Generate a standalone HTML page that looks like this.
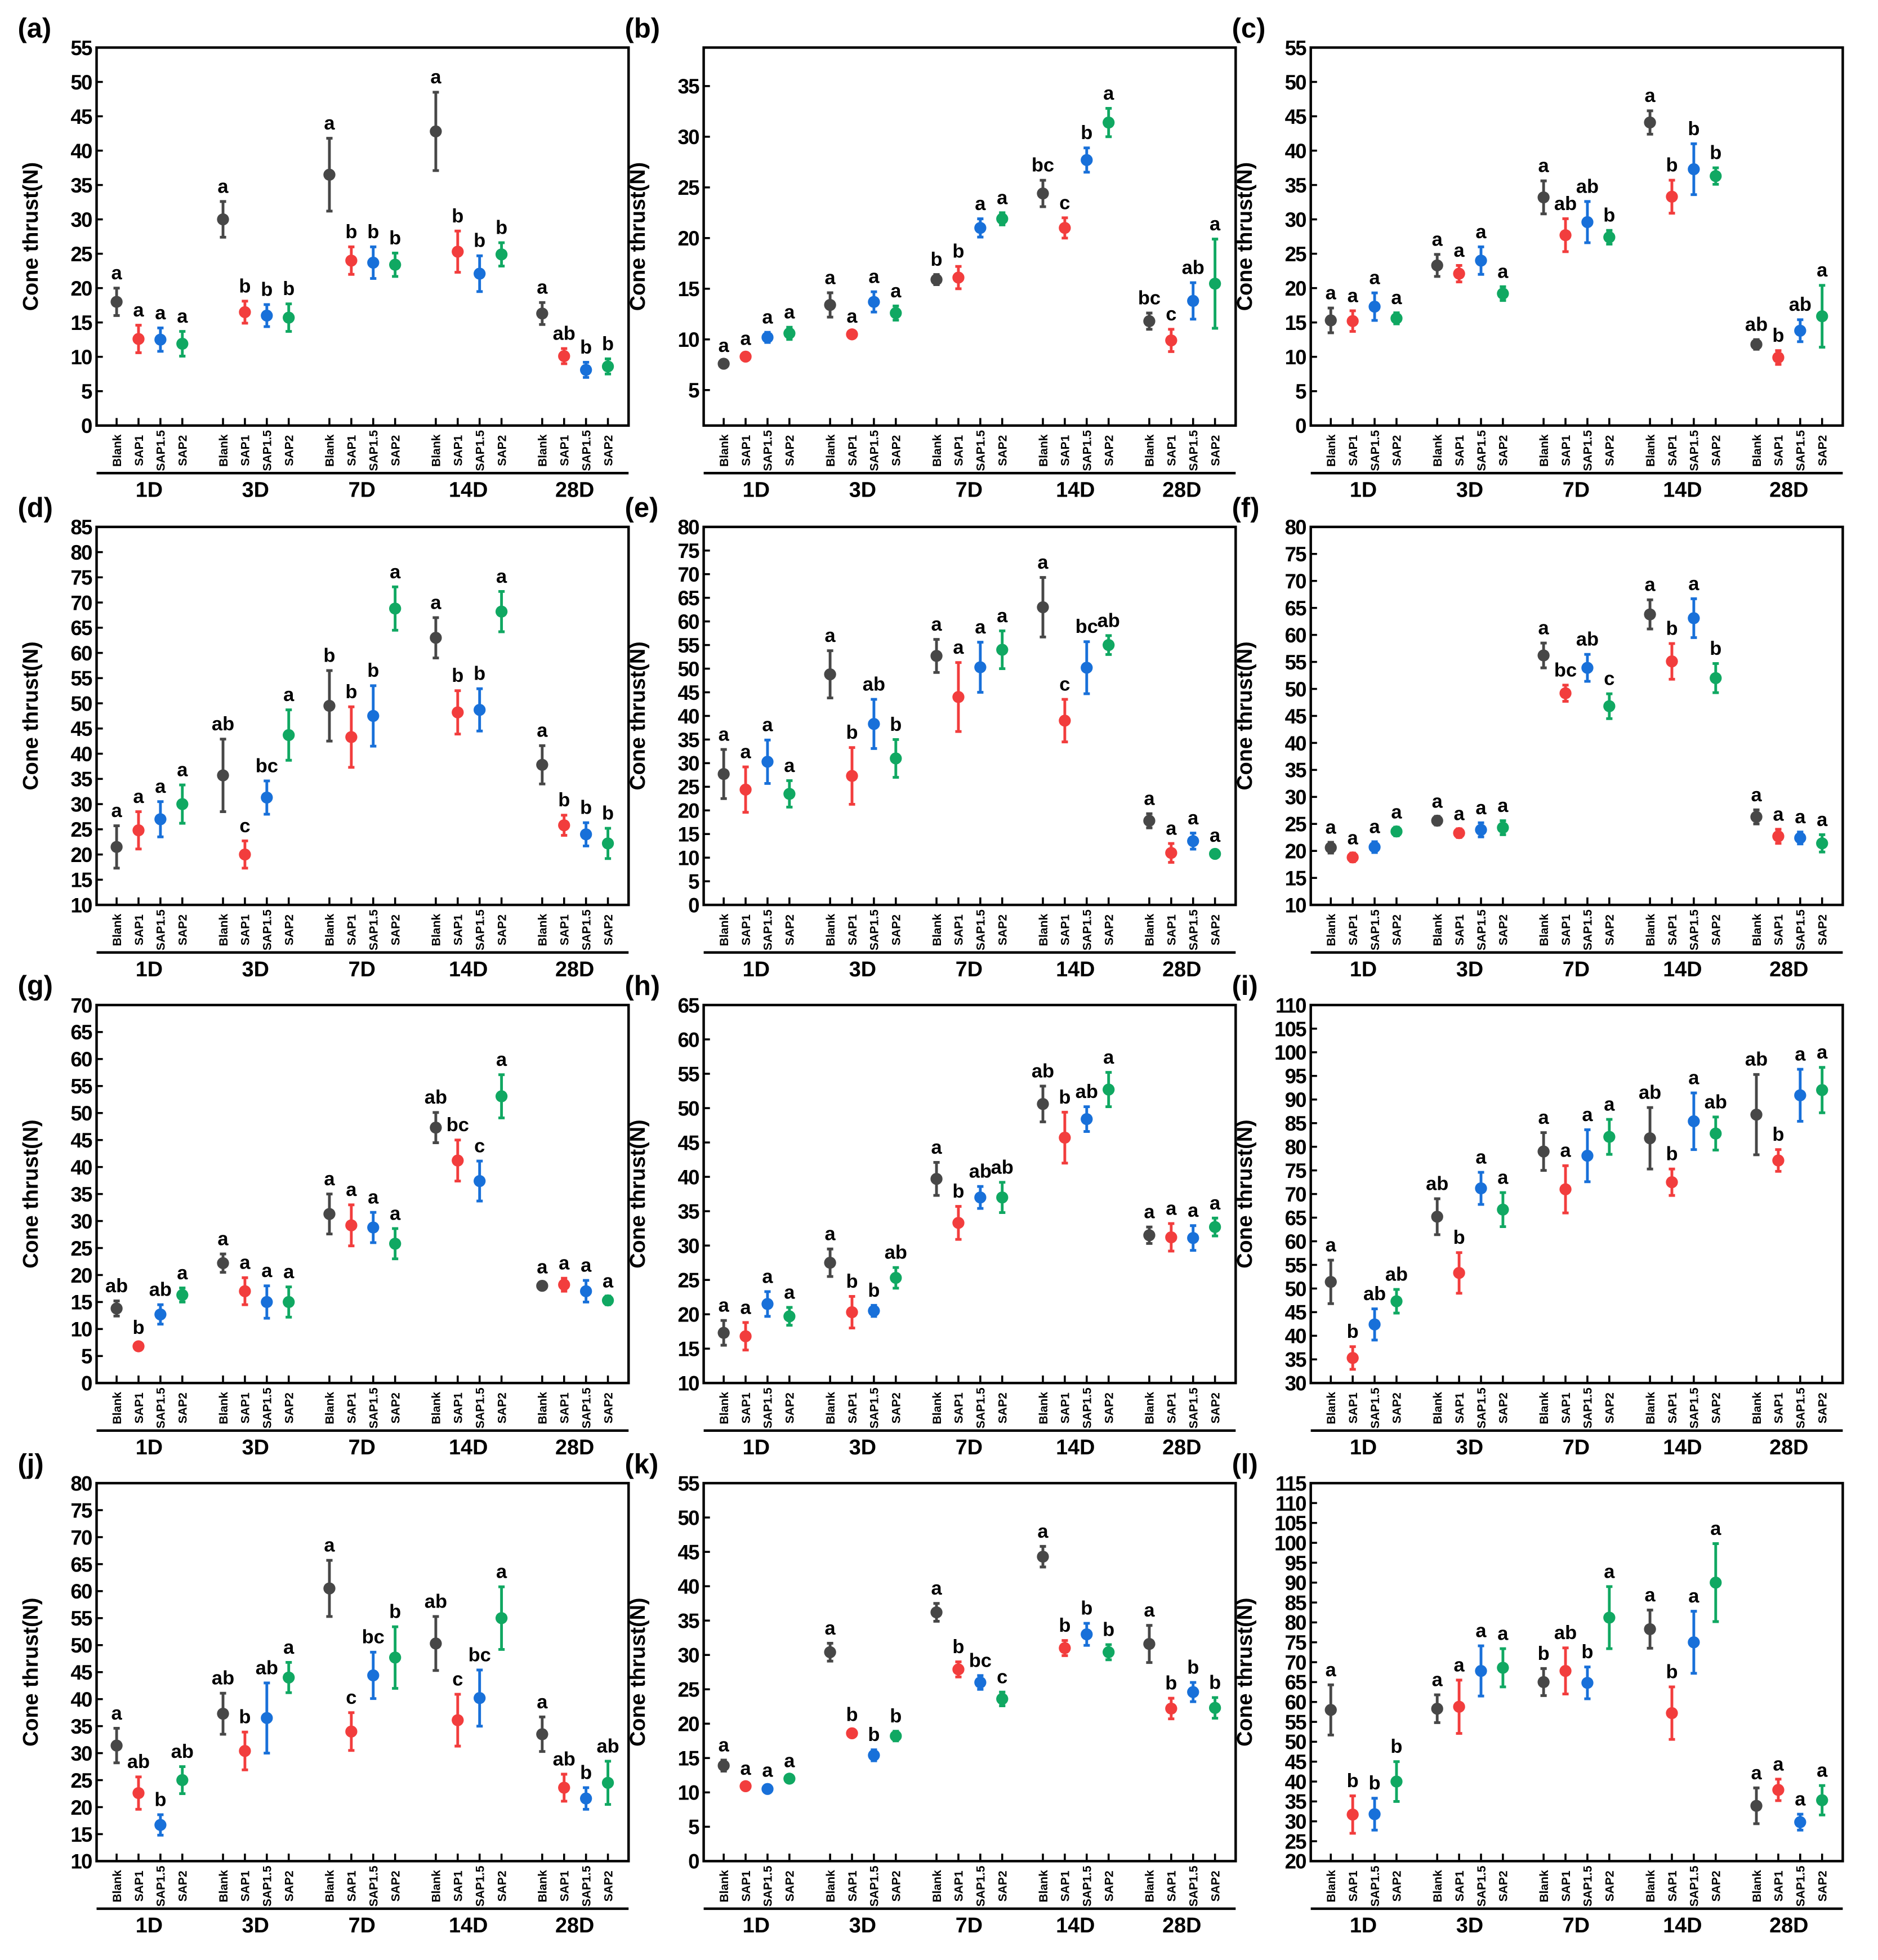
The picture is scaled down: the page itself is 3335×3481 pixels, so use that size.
<!DOCTYPE html>
<html><head><meta charset="utf-8">
<style>
html,body{margin:0;padding:0;background:#fff;}
svg{display:block;font-family:"Liberation Sans",Arial,sans-serif;}
</style></head>
<body>
<svg id="fig" xmlns="http://www.w3.org/2000/svg" width="3335" height="3481" viewBox="0 0 1500 1566"></svg>
<script>
// ---- shared categories ----
const treatments = ["Blank","SAP1","SAP1.5","SAP2"];
const groups = ["1D","3D","7D","14D","28D"];
const colors = ["#474747","#f23d3d","#1870d9","#10a862"];

// ---- panel (a) ----
const aMeans = [18,12.6,12.5,11.9, 30,16.5,16,15.7, 36.5,24,23.7,23.4, 42.8,25.3,22.1,24.9, 16.3,10.1,8.1,8.6];
const aErrs  = [2,2,1.7,1.8, 2.6,1.6,1.6,2, 5.3,2,2.3,1.7, 5.7,3,2.6,1.7, 1.6,1.1,1.1,1.1];
const aLetters = ["a","a","a","a","a","b","b","b","a","b","b","b","a","b","b","b","a","ab","b","b"];
const aTicks = [0,5,10,15,20,25,30,35,40,45,50,55];
// ---- panel (b) ----
const bMeans = [7.6,8.3,10.2,10.6, 13.4,10.5,13.7,12.6, 15.9,16.1,21,21.9, 24.4,21,27.7,31.4, 11.8,9.9,13.8,15.5];
const bErrs  = [0.3,0.3,0.5,0.6, 1.2,0.3,1,0.7, 0.5,1.1,0.9,0.6, 1.3,1,1.2,1.4, 0.8,1.1,1.8,4.4];
const bLetters = ["a","a","a","a","a","a","a","a","b","b","a","a","bc","c","b","a","bc","c","ab","a"];
const bTicks = [5,10,15,20,25,30,35];
// ---- panel (c) ----
const cMeans = [15.3,15.2,17.3,15.6, 23.3,22.1,24,19.2, 33.2,27.7,29.6,27.4, 44.1,33.3,37.3,36.3, 11.8,9.9,13.8,15.9];
const cErrs  = [1.8,1.5,2,0.8, 1.6,1.2,2,1, 2.4,2.4,3,1, 1.7,2.4,3.7,1.2, 0.7,1,1.6,4.5];
const cLetters = ["a","a","a","a","a","a","a","a","a","ab","ab","b","a","b","b","b","ab","b","ab","a"];
const cTicks = [0,5,10,15,20,25,30,35,40,45,50,55];
// ---- panel (d) ----
const dMeans = [21.5,24.8,27,30, 35.7,20,31.3,43.7, 49.5,43.3,47.5,68.8, 63,48.2,48.7,68.2, 37.8,25.8,24,22.2];
const dErrs  = [4.2,3.7,3.5,3.8, 7.2,2.7,3.3,5, 7,6,6,4.3, 4,4.3,4.2,4, 3.8,2,2.3,3];
const dLetters = ["a","a","a","a","ab","c","bc","a","b","b","b","a","a","b","b","a","a","b","b","b"];
const dTicks = [10,15,20,25,30,35,40,45,50,55,60,65,70,75,80,85];
// ---- panel (e) ----
const eMeans = [27.7,24.4,30.3,23.5, 48.8,27.3,38.3,31, 52.7,44,50.3,54, 63,39,50.2,55, 17.8,11,13.5,10.8];
const eErrs  = [5.2,4.8,4.6,2.8, 5,6,5.2,4, 3.5,7.3,5.3,4, 6.3,4.5,5.5,2, 1.5,2,1.7,0.7];
const eLetters = ["a","a","a","a","a","b","ab","b","a","a","a","a","a","c","bc","ab","a","a","a","a"];
const eTicks = [0,5,10,15,20,25,30,35,40,45,50,55,60,65,70,75,80];
// ---- panel (f) ----
const fMeans = [20.6,18.8,20.7,23.6, 25.6,23.3,23.9,24.3, 56.2,49.2,53.9,46.8, 63.8,55.1,63.1,52, 26.3,22.7,22.4,21.4];
const fErrs  = [1,0.8,1,0.8, 0.8,0.8,1.3,1.3, 2.3,1.5,2.5,2.3, 2.7,3.3,3.6,2.7, 1.3,1.3,1.1,1.6];
const fLetters = ["a","a","a","a","a","a","a","a","a","bc","ab","c","a","b","a","b","a","a","a","a"];
const fTicks = [10,15,20,25,30,35,40,45,50,55,60,65,70,75,80];
// ---- panel (g) ----
const gMeans = [13.8,6.8,12.7,16.3, 22.2,17,15,15, 31.3,29.2,28.8,25.8, 47.3,41.2,37.4,53.1, 18,18.2,17,15.3];
const gErrs  = [1.4,0.7,1.8,1.3, 1.7,2.5,3,2.8, 3.7,3.8,2.8,2.8, 2.8,3.8,3.7,4, 0.7,1.2,2,0.8];
const gLetters = ["ab","b","ab","a","a","a","a","a","a","a","a","a","ab","bc","c","a","a","a","a","a"];
const gTicks = [0,5,10,15,20,25,30,35,40,45,50,55,60,65,70];
// ---- panel (h) ----
const hMeans = [17.3,16.8,21.5,19.7, 27.5,20.3,20.5,25.3, 39.7,33.3,37,37, 50.6,45.7,48.4,52.7, 31.5,31.2,31.1,32.7];
const hErrs  = [1.8,2,1.8,1.3, 2,2.3,0.8,1.5, 2.4,2.4,1.6,2.2, 2.6,3.7,1.8,2.5, 1.2,2,1.8,1.3];
const hLetters = ["a","a","a","a","a","b","b","ab","a","b","ab","ab","ab","b","ab","a","a","a","a","a"];
const hTicks = [10,15,20,25,30,35,40,45,50,55,60,65];
// ---- panel (i) ----
const iMeans = [51.4,35.3,42.4,47.3, 65.2,53.3,71.2,66.7, 79,71,78.1,82.1, 81.8,72.5,85.4,82.8, 86.8,77.1,90.9,92];
const iErrs  = [4.6,2.4,3.3,2.5, 3.8,4.3,3.4,3.6, 4,5,5.5,3.7, 6.5,2.8,6,3.5, 8.5,2.3,5.5,4.8];
const iLetters = ["a","b","ab","ab","ab","b","a","a","a","a","a","a","ab","b","a","ab","ab","b","a","a"];
const iTicks = [30,35,40,45,50,55,60,65,70,75,80,85,90,95,100,105,110];
// ---- panel (j) ----
const jMeans = [31.4,22.6,16.7,25, 37.3,30.4,36.5,44, 60.5,34,44.4,47.7, 50.3,36.1,40.2,55, 33.5,23.6,21.6,24.5];
const jErrs  = [3.2,3,1.9,2.5, 3.8,3.5,6.5,2.8, 5.2,3.5,4.3,5.7, 5,4.8,5.2,5.8, 3.2,2.5,2,4];
const jLetters = ["a","ab","b","ab","ab","b","ab","a","a","c","bc","b","ab","c","bc","a","a","ab","b","ab"];
const jTicks = [10,15,20,25,30,35,40,45,50,55,60,65,70,75,80];
// ---- panel (k) ----
const kMeans = [13.9,10.9,10.5,12, 30.4,18.6,15.4,18.2, 36.2,27.9,26,23.6, 44.3,31,33,30.4, 31.6,22.2,24.6,22.3];
const kErrs  = [0.8,0.4,0.5,0.4, 1.3,0.5,0.8,0.7, 1.3,1.1,1,1, 1.5,1.1,1.6,1.1, 2.7,1.5,1.4,1.5];
const kLetters = ["a","a","a","a","a","b","b","b","a","b","bc","c","a","b","b","b","a","b","b","b"];
const kTicks = [0,5,10,15,20,25,30,35,40,45,50,55];
// ---- panel (l) ----
const lMeans = [58,31.7,31.8,40, 58.3,58.8,67.8,68.6, 65,67.8,64.8,81.2, 78.3,57.2,75,90, 33.9,37.9,29.8,35.3];
const lErrs  = [6.3,4.7,4,5, 3.5,6.7,6.3,4.8, 3.4,5.8,4,7.8, 4.8,6.6,7.8,9.8, 4.5,2.7,2,3.7];
const lLetters = ["a","b","b","b","a","a","a","a","b","ab","b","a","a","b","a","a","a","a","a","a"];
const lTicks = [20,25,30,35,40,45,50,55,60,65,70,75,80,85,90,95,100,105,110,115];

const panels = [
 {id:"a",m:aMeans,e:aErrs,l:aLetters,t:aTicks,min:0,max:55},
 {id:"b",m:bMeans,e:bErrs,l:bLetters,t:bTicks,min:1.5,max:38.8},
 {id:"c",m:cMeans,e:cErrs,l:cLetters,t:cTicks,min:0,max:55},
 {id:"d",m:dMeans,e:dErrs,l:dLetters,t:dTicks,min:10,max:85},
 {id:"e",m:eMeans,e:eErrs,l:eLetters,t:eTicks,min:0,max:80},
 {id:"f",m:fMeans,e:fErrs,l:fLetters,t:fTicks,min:10,max:80},
 {id:"g",m:gMeans,e:gErrs,l:gLetters,t:gTicks,min:0,max:70},
 {id:"h",m:hMeans,e:hErrs,l:hLetters,t:hTicks,min:10,max:65},
 {id:"i",m:iMeans,e:iErrs,l:iLetters,t:iTicks,min:30,max:110},
 {id:"j",m:jMeans,e:jErrs,l:jLetters,t:jTicks,min:10,max:80},
 {id:"k",m:kMeans,e:kErrs,l:kLetters,t:kTicks,min:0,max:55},
 {id:"l",m:lMeans,e:lErrs,l:lLetters,t:lTicks,min:20,max:115}
];

const NS="http://www.w3.org/2000/svg";
const svg=document.getElementById("fig");
function mk(tag,attrs,parent,text){
  const el=document.createElementNS(NS,tag);
  for(const k in attrs) el.setAttribute(k,attrs[k]);
  if(text!==undefined) el.textContent=text;
  parent.appendChild(el);
  return el;
}
const colLeft=[77,562,1047], rowTop=[38,421,803,1185], W=425, H=302;

panels.forEach((p,pi)=>{
  const L=colLeft[pi%3], T=rowTop[Math.floor(pi/3)], B=T+H;
  const g=mk("g",{},svg);
  
  
  const y=v=>B-(v-p.min)/(p.max-p.min)*H;
  const x=(gi,ti)=>L+gi*85+16+ti*17.5;

  const lab=mk("text",{x:L-63,y:T-8,"font-size":22,"font-weight":"bold"},g,"("+p.id+")");
  
  

  const yt=mk("text",{x:0,y:0,"font-size":17,"font-weight":"bold","text-anchor":"middle",transform:`translate(${L-47},${T+H/2}) rotate(-90)`},g,"Cone thrust(N)");
  
  

  p.t.forEach(t=>{
    const yy=y(t);
    const tk=mk("line",{x1:L,x2:L+5,y1:yy,y2:yy,stroke:"#000","stroke-width":1.6},g);
    
    
    const tl=mk("text",{x:L-4,y:yy+6,"font-size":16.5,"font-weight":"bold","text-anchor":"end","letter-spacing":"-0.8"},g,String(t));
    
    
  });

  const box=mk("rect",{x:L,y:T,width:W,height:H,fill:"none",stroke:"#000","stroke-width":2},g);
  
  

  groups.forEach((gn,gi)=>{
    treatments.forEach((tn,ti)=>{
      const k=gi*4+ti, cx=x(gi,ti);
      const xt=mk("line",{x1:cx,x2:cx,y1:B,y2:B-6,stroke:"#000","stroke-width":1.6},g);
      
      
      const xl=mk("text",{x:0,y:0,"font-size":9.5,"font-weight":"bold","text-anchor":"middle",transform:`translate(${cx+3.5},${B+20}) rotate(-90)`},g,tn);
      
      
      const m=p.m[k], e=p.e[k], c=colors[ti];
      const yTop=y(m+e), yBot=y(m-e);
      const eb=mk("path",{d:`M${cx},${yTop}V${yBot}M${cx-2.5},${yTop}H${cx+2.5}M${cx-2.5},${yBot}H${cx+2.5}`,stroke:c,"stroke-width":2.2,fill:"none"},g);
      
      
      const pt=mk("circle",{cx:cx,cy:y(m),r:4.8,fill:c},g);
      
      
      const lt=mk("text",{x:cx,y:yTop-7,"font-size":15.5,"font-weight":"bold","text-anchor":"middle"},g,p.l[k]);
      
      
    });
    const gl=mk("text",{x:L+gi*85+42,y:B+57,"font-size":17,"font-weight":"bold","text-anchor":"middle"},g,gn);
    
    
  });
  const br=mk("line",{x1:L,x2:L+W,y1:B+38,y2:B+38,stroke:"#000","stroke-width":2},g);
  
  
});
</script>
</body></html>
